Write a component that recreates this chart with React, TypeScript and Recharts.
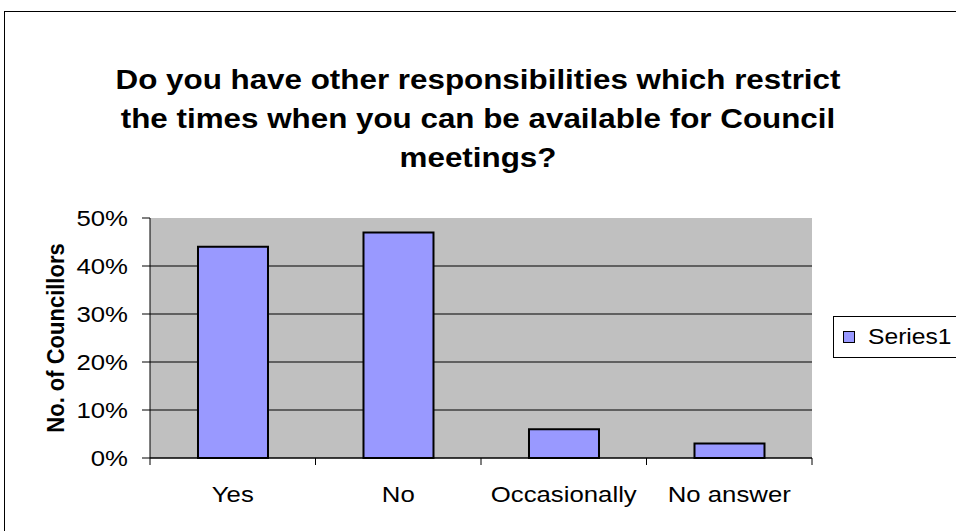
import { BarChart, Bar, XAxis, YAxis, CartesianGrid } from "recharts";

const categories = ["Yes", "No", "Occasionally", "No answer"];
const series1 = [44, 47, 6, 3];
const yTicks = [0, 10, 20, 30, 40, 50];
const seriesName = "Series1";

const chartTitle = [
  "Do you have other responsibilities which restrict",
  "the times when you can be available for Council",
  "meetings?",
];

const data = categories.map((name, i) => ({ name, Series1: series1[i] }));

const FONT = "'Liberation Sans', Arial, sans-serif";
// the original picture is a little wider than tall, text included
const STRETCH = 1.12;

// category ticks sit between the bars, labels in the middle
function CategoryTick(props: any) {
  const { x, y, payload, index } = props;
  const half = payload.offset ?? 0;
  const last = index === categories.length - 1;
  return (
    <g>
      <line x1={x - half} y1={y - 8} x2={x - half} y2={y - 1} stroke="#000" />
      {last && <line x1={x + half} y1={y - 8} x2={x + half} y2={y - 1} stroke="#000" />}
      <text
        transform={`translate(${x}, ${y + 36}) scale(${STRETCH}, 1)`}
        textAnchor="middle"
        fontSize={23}
        fontFamily={FONT}
        fill="#000"
      >
        {payload.value}
      </text>
    </g>
  );
}

function PercentTick(props: any) {
  const { x, y, payload } = props;
  return (
    <text
      transform={`translate(${x}, ${y + 8}) scale(${STRETCH}, 1)`}
      textAnchor="end"
      fontSize={23}
      fontFamily={FONT}
      fill="#000"
    >
      {`${payload.value}%`}
    </text>
  );
}

function YTitle(props: any) {
  const { viewBox } = props;
  const cy = viewBox.y + viewBox.height / 2;
  return (
    <text
      transform={`translate(64, ${cy}) scale(${STRETCH}, 1) rotate(-90)`}
      textAnchor="middle"
      fontSize={22}
      fontWeight="bold"
      fontFamily={FONT}
      fill="#000"
    >
      No. of Councillors
    </text>
  );
}

export default function App() {
  return (
    <div style={{ position: "fixed", left: 0, top: 0, width: 956, height: 531, overflow: "hidden", background: "#fff" }}>
      <div
        style={{
          position: "absolute",
          left: 4,
          top: 11,
          width: 1000,
          height: 600,
          border: "1px solid #000",
        }}
      />
      <div
        style={{
          position: "absolute",
          left: 0,
          top: 60,
          width: 956,
          textAlign: "center",
          fontFamily: FONT,
          fontWeight: "bold",
          fontSize: 28,
          lineHeight: "39px",
          transform: `scaleX(${STRETCH})`,
          transformOrigin: "478px 0",
        }}
      >
        {chartTitle.map((t) => (
          <div key={t}>{t}</div>
        ))}
      </div>
      <div style={{ position: "absolute", left: 0, top: 0 }}>
        <BarChart
          width={956}
          height={531}
          data={data}
          margin={{ top: 218, right: 144, left: 0, bottom: 33 }}
          barCategoryGap="29%"
        >
          <CartesianGrid fill="#C0C0C0" stroke="#000" vertical={false} horizontalValues={[0, 10, 20, 30, 40]} />
          <XAxis
            dataKey="name"
            height={40}
            axisLine={{ stroke: "#000" }}
            tickLine={false}
            tick={<CategoryTick />}
            interval={0}
          />
          <XAxis xAxisId="top" dataKey="name" orientation="top" height={0} tick={false} tickLine={false} axisLine={{ stroke: "#808080" }} />
          <YAxis
            width={150}
            domain={[0, 50]}
            ticks={yTicks}
            axisLine={{ stroke: "#000" }}
            tickLine={{ stroke: "#000" }}
            tickSize={8}
            tickMargin={14}
            tick={<PercentTick />}
            label={<YTitle />}
          />
          <YAxis yAxisId="right" orientation="right" width={0} domain={[0, 50]} tick={false} tickLine={false} axisLine={{ stroke: "#808080" }} />
          <Bar dataKey="Series1" fill="#9999FF" stroke="#000" strokeWidth={2} isAnimationActive={false} />
        </BarChart>
      </div>
      <div
        style={{
          position: "absolute",
          left: 833,
          top: 316,
          width: 140,
          height: 42,
          boxSizing: "border-box",
          border: "1px solid #000",
          background: "#fff",
          display: "flex",
          alignItems: "center",
          paddingLeft: 9,
          fontFamily: FONT,
          fontSize: 22,
        }}
      >
        <span
          style={{
            width: 10,
            height: 10,
            background: "#9999FF",
            border: "1px solid #000",
            marginRight: 13,
            display: "inline-block",
            flexShrink: 0,
          }}
        />
        <span style={{ display: "inline-block", transform: `scaleX(${STRETCH})`, transformOrigin: "0 50%" }}>
          {seriesName}
        </span>
      </div>
    </div>
  );
}
